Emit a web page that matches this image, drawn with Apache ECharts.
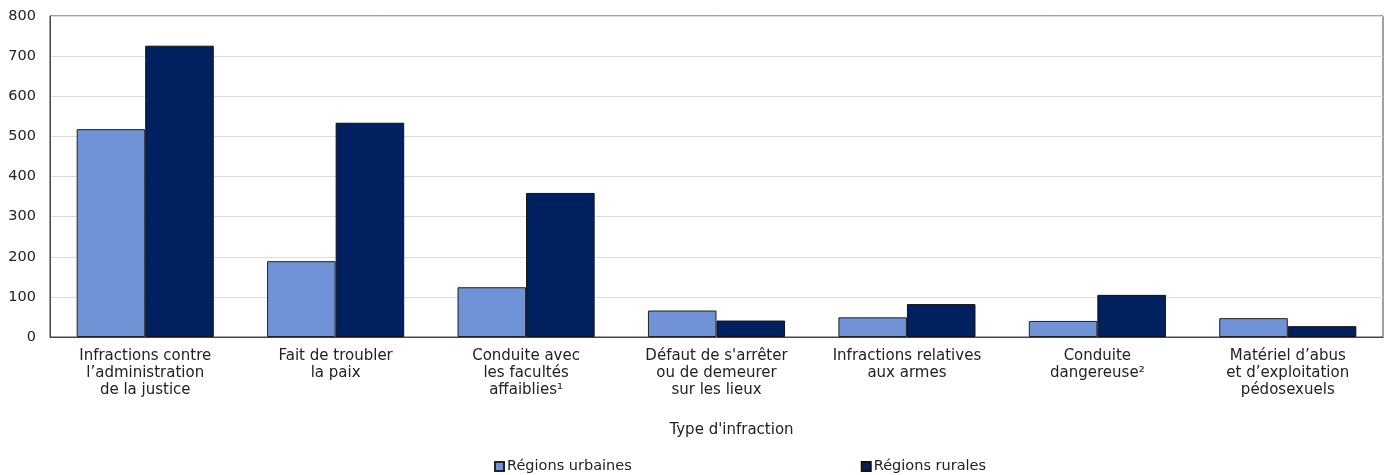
<!DOCTYPE html>
<html>
<head>
<meta charset="utf-8">
<script src="https://cdn.jsdelivr.net/npm/echarts@6/dist/echarts.min.js"></script>
<style>
  html, body { margin: 0; padding: 0; background: #fff; }
  #chart { width: 1384px; height: 475px; }
</style>
</head>
<body>
<div id="chart"></div>
<script>
var categories = [
    'Infractions contre\nl\u2019administration\nde la justice',
    'Fait de troubler\nla paix',
    'Conduite avec\nles facult\u00e9s\naffaiblies\u00b9',
    'D\u00e9faut de s\'arr\u00eater\nou de demeurer\nsur les lieux',
    'Infractions relatives\naux armes',
    'Conduite\ndangereuse\u00b2',
    'Mat\u00e9riel d\u2019abus\net d\u2019exploitation\np\u00e9dosexuels'
];
var urbaines = [518, 189, 124, 66, 49, 40, 47];
var rurales = [726, 534, 359, 41, 82, 105, 27];
var yTicks = [0, 100, 200, 300, 400, 500, 600, 700, 800];

var font = 'Verdana, "DejaVu Sans", sans-serif';

var chart = echarts.init( document.getElementById( 'chart' ) );
var option = {
    animation: false,
    textStyle: { fontFamily: font },
    grid: {
        left: 50,
        right: 1,
        top: 16,
        bottom: 138,
        show: true,
        borderColor: '#444',
        borderWidth: 1
    },
    legend: {
        left: 494,
        top: 459,
        padding: 0,
        itemGap: 229,
        itemWidth: 9,
        itemHeight: 9,
        icon: 'rect',
        textStyle: { fontFamily: font, fontSize: 14.5, color: '#222', padding: [0, 0, 0, -2] },
        data: ['R\u00e9gions urbaines', 'R\u00e9gions rurales']
    },
    xAxis: {
        type: 'category',
        data: categories,
        name: 'Type d\'infraction',
        nameLocation: 'middle',
        nameGap: 86,
        nameTextStyle: { fontFamily: font, fontSize: 15, color: '#222', padding: [0, 0, 0, 30] },
        axisLine: { lineStyle: { color: '#444' } },
        axisTick: { show: false },
        axisLabel: {
            interval: 0,
            margin: 11,
            fontFamily: font,
            fontSize: 15,
            lineHeight: 17,
            color: '#222'
        }
    },
    yAxis: {
        type: 'value',
        min: yTicks[0],
        max: yTicks[yTicks.length - 1],
        interval: 100,
        axisLine: { show: true, lineStyle: { color: '#444' } },
        axisTick: { show: false },
        axisLabel: { fontFamily: font, fontSize: 14.5, color: '#222', margin: 14 },
        splitLine: { lineStyle: { color: '#dcdcdc', width: 1 } }
    },
    series: [{
        name: 'R\u00e9gions urbaines',
        type: 'bar',
        data: urbaines,
        barGap: '0%',
        barCategoryGap: '28%',
        itemStyle: { color: '#7092d6', borderColor: '#222', borderWidth: 1 }
    }, {
        name: 'R\u00e9gions rurales',
        type: 'bar',
        data: rurales,
        barGap: '0%',
        barCategoryGap: '28%',
        itemStyle: { color: '#00205f', borderColor: '#111', borderWidth: 1 }
    }]
};
chart.setOption( option );
</script>
</body>
</html>
